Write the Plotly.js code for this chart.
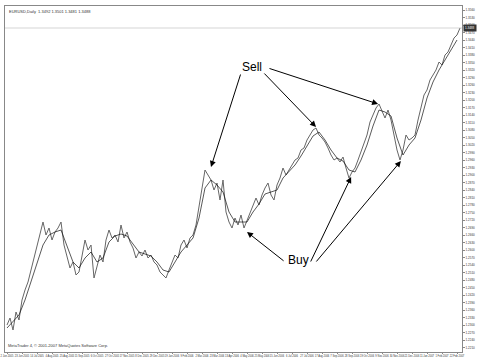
<!DOCTYPE html>
<html>
<head>
<meta charset="utf-8">
<script src="https://cdn.plot.ly/plotly-3.0.1.min.js"></script>
<style>html,body{margin:0;padding:0;background:#fff}#chart{width:480px;height:361px}</style>
</head>
<body>
<div id="chart"></div>
<script>
// Daily closes
var closes = [
1.2300,1.2328,1.2280,1.2352,1.2320,1.2400,1.2440,1.2472,1.2520,1.2568,
1.2620,1.2672,1.2712,1.2660,1.2688,1.2640,1.2672,1.2688,1.2712,1.2620,
1.2568,1.2528,1.2552,1.2500,1.2512,1.2580,1.2640,1.2600,1.2620,1.2488,
1.2540,1.2580,1.2552,1.2640,1.2680,1.2648,1.2660,1.2632,1.2700,1.2648,
1.2672,1.2632,1.2608,1.2568,1.2592,1.2576,1.2600,1.2568,1.2580,1.2552,
1.2540,1.2512,1.2500,1.2488,1.2520,1.2552,1.2580,1.2568,1.2620,1.2640,
1.2608,1.2648,1.2660,1.2700,1.2780,1.2860,1.2920,1.2900,1.2880,1.2840,
1.2868,1.2800,1.2880,1.2752,1.2712,1.2688,1.2728,1.2700,1.2740,1.2688,
1.2720,1.2752,1.2780,1.2808,1.2780,1.2820,1.2848,1.2868,1.2820,1.2800,
1.2860,1.2888,1.2928,1.2900,1.2920,1.2940,1.2960,1.2968,1.3000,1.3008,
1.3040,1.3060,1.3080,1.3088,1.3060,1.3048,1.3032,1.3008,1.2980,1.2960,
1.2968,1.2952,1.2972,1.2928,1.2888,1.2912,1.2928,1.2960,1.2992,1.3032,
1.3060,1.3112,1.3140,1.3168,1.3184,1.3152,1.3128,1.3160,1.3120,1.3060,
1.3000,1.2960,1.3000,1.3060,1.3040,1.3048,1.3060,1.3120,1.3168,1.3220,
1.3240,1.3280,1.3300,1.3320,1.3352,1.3340,1.3380,1.3392,1.3420,1.3448,
1.3460,1.3488
];
// Moving average, sampled every second bar
var maValues = [
1.2288,1.2312,1.2340,1.2400,1.2472,1.2552,1.2620,1.2660,1.2672,1.2680,
1.2620,1.2552,1.2528,1.2568,1.2592,1.2552,1.2568,1.2632,1.2656,1.2664,
1.2656,1.2624,1.2592,1.2584,1.2576,1.2552,1.2520,1.2512,1.2552,1.2592,
1.2620,1.2648,1.2728,1.2848,1.2880,1.2860,1.2832,1.2752,1.2712,1.2712,
1.2712,1.2752,1.2784,1.2824,1.2832,1.2840,1.2888,1.2912,1.2940,1.2976,
1.3016,1.3056,1.3072,1.3040,1.3000,1.2968,1.2956,1.2920,1.2912,1.2960,
1.3020,1.3096,1.3160,1.3152,1.3136,1.3048,1.2980,1.3020,1.3048,1.3120,
1.3208,1.3272,1.3320,1.3360,1.3400,1.3440
];
var dateLabels = ["2 Jun 2005","23 Jun 2005","14 Jul 2005","4 Aug 2005","25 Aug 2005","15 Sep 2005",
"6 Oct 2005","27 Oct 2005","17 Nov 2005","8 Dec 2005","29 Dec 2005","19 Jan 2006","9 Feb 2006",
"2 Mar 2006","23 Mar 2006","13 Apr 2006","4 May 2006","25 May 2006","15 Jun 2006","6 Jul 2006",
"27 Jul 2006","17 Aug 2006","7 Sep 2006","28 Sep 2006","19 Oct 2006","9 Nov 2006","30 Nov 2006",
"21 Dec 2006","11 Jan 2007","1 Feb 2007","22 Feb 2007"];
var lastPrice = 1.3488;

var xs = closes.map(function(_, i){ return i; });
var maX = maValues.map(function(_, k){ return 2*k; });
var tickVals = dateLabels.map(function(_, k){ return 5*k; });

var traces = [
  {x: xs, y: closes, type: 'scatter', mode: 'lines', line: {color: '#666', width: 1}, hoverinfo: 'skip'},
  {x: maX, y: maValues, type: 'scatter', mode: 'lines', line: {color: '#111', width: 0.7}, hoverinfo: 'skip'}
];

function arrow(tx, ty, hx, hy){
  return {x: hx, y: hy, ax: tx, ay: ty, xref: 'x', yref: 'y', axref: 'x', ayref: 'y',
    showarrow: true, arrowhead: 2, arrowsize: 1.2, arrowwidth: 1, arrowcolor: '#000', text: ''};
}
var small = {family: 'Liberation Sans, Arial, sans-serif', size: 4, color: '#333'};
var tiny = {family: 'Liberation Sans, Arial, sans-serif', size: 3, color: '#333'};
var dateFont = {family: 'Liberation Sans, Arial, sans-serif', size: 2.6, color: '#333'};

var layout = {
  width: 480, height: 361,
  margin: {l: 5, r: 18, t: 6, b: 9},
  paper_bgcolor: '#fff', plot_bgcolor: '#fff',
  showlegend: false,
  font: small,
  xaxis: {range: [-0.667, 151.667], tickmode: 'array', tickvals: tickVals, ticktext: dateLabels,
    showgrid: false, zeroline: false, showline: true, mirror: true, linecolor: '#888', linewidth: 1,
    ticks: 'outside', ticklen: 1, tickcolor: '#888', tickfont: dateFont, tickangle: 0},
  yaxis: {range: [1.2192, 1.3576], side: 'right', tick0: 1.2000, dtick: 0.003, tickformat: '.4f',
    showgrid: false, zeroline: false, showline: true, mirror: true, linecolor: '#888', linewidth: 1,
    ticks: 'outside', ticklen: 2, tickcolor: '#888', tickfont: tiny},
  shapes: [
    {type: 'line', xref: 'paper', x0: 0, x1: 1, yref: 'y', y0: lastPrice, y1: lastPrice, line: {color: '#bbb', width: 0.6}}
  ],
  annotations: [
    arrow(78, 1.3308, 68, 1.2932),
    arrow(85.3, 1.3312, 103, 1.3092),
    arrow(87, 1.3328, 123.7, 1.3184),
    arrow(92.7, 1.2552, 80, 1.2672),
    arrow(101, 1.2548, 114.7, 1.2892),
    arrow(102.7, 1.2548, 131.3, 1.2956),
    {x: 81.7, y: 1.3332, xref: 'x', yref: 'y', text: 'Sell', showarrow: false,
      font: {family: 'Liberation Sans, Arial, sans-serif', size: 12, color: '#000'}},
    {x: 97, y: 1.2560, xref: 'x', yref: 'y', text: 'Buy', showarrow: false,
      font: {family: 'Liberation Sans, Arial, sans-serif', size: 12, color: '#000'}},
    {x: 1, y: lastPrice, xref: 'paper', yref: 'y', xanchor: 'left', text: lastPrice.toFixed(4), showarrow: false,
      bgcolor: '#333', borderpad: 1, xshift: 1,
      font: {family: 'Liberation Sans, Arial, sans-serif', size: 3, color: '#fff'}},
    {x: 0.004, y: 0.997, xref: 'paper', yref: 'paper', xanchor: 'left', yanchor: 'top', showarrow: false,
      text: 'EURUSD,Daily  1.3492 1.3501 1.3481 1.3488', font: small},
    {x: 0.003, y: 0.005, xref: 'paper', yref: 'paper', xanchor: 'left', yanchor: 'bottom', showarrow: false,
      text: 'MetaTrader 4, © 2001-2007 MetaQuotes Software Corp.', font: small}
  ]
};

Plotly.newPlot('chart', traces, layout, {staticPlot: true, displayModeBar: false});
</script>
</body>
</html>
